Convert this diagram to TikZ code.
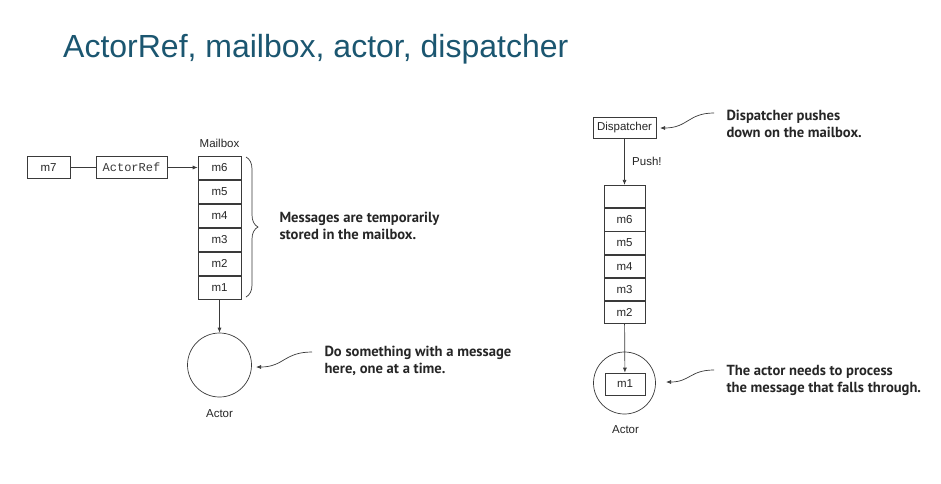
\documentclass[tikz,border=0pt]{standalone}
\usepackage{fontspec}
\setmainfont{Liberation Sans}
\newfontfamily\notefont{PT Sans}
\newfontfamily\codefont{Liberation Mono}
\usetikzlibrary{arrows.meta,decorations.pathreplacing}
\definecolor{titlecol}{HTML}{1B5670}
\definecolor{linecol}{HTML}{3A3A3A}
\definecolor{txtcol}{HTML}{262626}
\tikzset{
  cell/.style={draw=linecol, line width=0.7pt, minimum width=43pt, minimum height=23.3pt, inner sep=0pt, font=\fontsize{11.5}{13}\selectfont, text=txtcol},
  rcell/.style={cell, minimum width=41pt, minimum height=22.5pt},
  smallbox/.style={draw=linecol, line width=0.7pt, minimum height=22pt, inner sep=0pt, font=\fontsize{11.5}{13}\selectfont, text=txtcol},
  conn/.style={draw=linecol, line width=0.7pt},
  arr/.style={conn, -{Latex[length=5pt,width=4pt]}},
  note/.style={anchor=base west, align=left, font=\notefont\bfseries\fontsize{14.6}{16.5}\selectfont, text=txtcol},
  lbl/.style={font=\fontsize{11.5}{13}\selectfont, text=txtcol},
  actorcirc/.style={draw=linecol, line width=0.7pt, circle, inner sep=0pt}
}
\begin{document}
\begin{tikzpicture}[x=1pt,y=-1pt]
\useasboundingbox[fill=white] (0,0) rectangle (941,483);
% title
\node[anchor=base west, inner sep=0pt, text=titlecol, font=\fontsize{32}{36}\selectfont] (title) at (63,57) {ActorRef, mailbox, actor, dispatcher};

% ---------- left diagram ----------
\node[smallbox, minimum width=43pt] (m7) at (48.5,167.5) {m7};
\node[smallbox, minimum width=71pt, font=\codefont\fontsize{12}{13}\selectfont, text=linecol] (aref) at (131.5,167.5) {ActorRef};
\node[cell] (l6) at (219.5,167.5) {m6};
\node[cell, anchor=north] (l5) at (l6.south) {m5};
\node[cell, anchor=north] (l4) at (l5.south) {m4};
\node[cell, anchor=north] (l3) at (l4.south) {m3};
\node[cell, anchor=north] (l2) at (l3.south) {m2};
\node[cell, anchor=north] (l1) at (l2.south) {m1};
\node[lbl, anchor=base] (mbl) at (219.5,147) {Mailbox};
\draw[conn] (m7) -- (aref);
\draw[arr] (aref) -- (l6);
\coordinate (bt) at (246,157);
\coordinate (bb) at (246,297);
\draw[conn, decorate, decoration={brace, amplitude=12pt}] (bt) -- (bb);
\node[note] (n1) at (276,239) {Messages are temporarily\\stored in the mailbox.};
\node[actorcirc, minimum size=64pt] (lactor) at (219.5,365) {};
\node[lbl, anchor=base] (lactl) at (219.5,417) {Actor};
\draw[arr] (l1) -- (lactor);
\node[note] (n2) at (321,373) {Do something with a message\\here, one at a time.};
\coordinate (a2s) at (312,352);
\coordinate (a2e) at (256,367);
\draw[arr] (a2s) .. controls (284,352) and (284,367) .. (a2e);

% ---------- right diagram ----------
\node[smallbox, minimum width=63pt, minimum height=21pt] (disp) at (624.5,128) {Dispatcher};
\node[rcell] (r0) at (624.5,196.5) {};
\node[rcell, anchor=north] (r6) at (r0.south) {m6};
\node[rcell, anchor=north] (r5) at (r6.south) {m5};
\node[rcell, anchor=north] (r4) at (r5.south) {m4};
\node[rcell, anchor=north] (r3) at (r4.south) {m3};
\node[rcell, anchor=north] (r2) at (r3.south) {m2};
\draw[arr] (disp) -- node[lbl, right, xshift=4pt] (push) {Push!} (r0);
\node[actorcirc, minimum size=62pt] (ractor) at (624.5,383) {};
\node[smallbox, minimum width=40pt] (rm1) at (625,384) {m1};
\node[lbl, anchor=base] (ractl) at (625.5,433) {Actor};
\draw[arr] (r2) -- (rm1);
\node[note] (n3) at (723,137) {Dispatcher pushes\\down on the mailbox.};
\coordinate (a3s) at (714,113);
\coordinate (a3e) at (660,128);
\draw[arr] (a3s) .. controls (688,113) and (688,128) .. (a3e);
\node[note] (n4) at (723,392) {The actor needs to process\\the message that falls through.};
\coordinate (a4s) at (714,370);
\coordinate (a4e) at (666,382);
\draw[arr] (a4s) .. controls (690,370) and (690,382) .. (a4e);
\end{tikzpicture}
\end{document}
